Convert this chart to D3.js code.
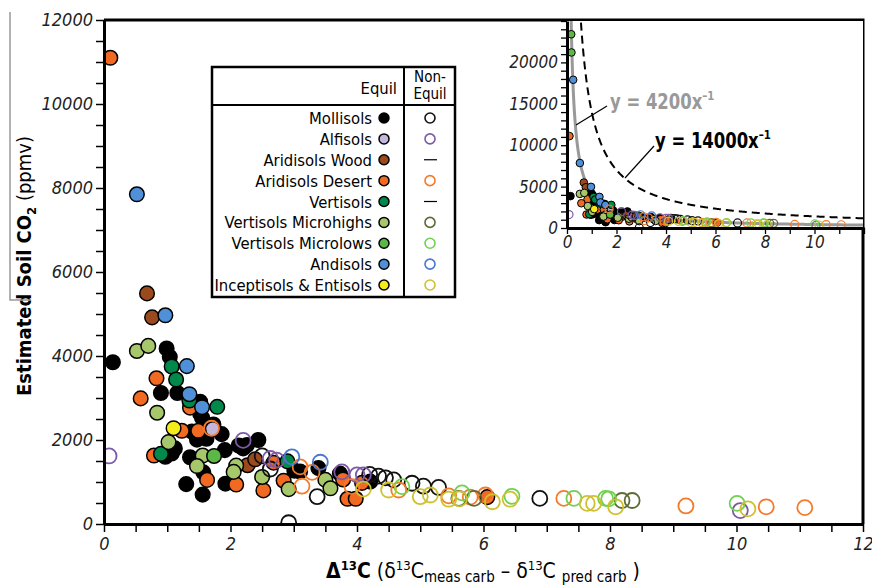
<!DOCTYPE html>
<html>
<head>
<meta charset="utf-8">
<script src="https://cdn.jsdelivr.net/npm/d3@7"></script>
<style>
  body { margin: 0; background: #fff; }
  svg { display: block; font-family: "DejaVu Sans Condensed", "Liberation Sans Narrow", sans-serif; }
</style>
</head>
<body>
<svg id="chart" width="872" height="588"></svg>
<script>
// soil orders, in legend order
const soilNames = ["Mollisols", "Alfisols", "Aridisols Wood", "Aridisols Desert", "Vertisols",
  "Vertisols Microhighs", "Vertisols Microlows", "Andisols", "Inceptisols & Entisols"];

// [delta13C, soil CO2 (ppmv)] — equilibrium samples (filled) and non-equilibrium (open)
const mollisolsEq = [[0.14,3850],[0.99,4180],[1.04,3980],[0.90,3120],[1.16,3120],[1.52,2910],[1.52,2630],
  [1.55,2530],[1.73,2370],[1.39,2200],[1.86,2140],[1.62,2030],[1.47,2010],[1.91,1760],[1.10,1760],
  [1.12,1800],[0.97,1600],[1.07,1680],[1.36,1590],[1.57,1230],[1.30,950],[1.56,700],[1.92,960],
  [2.13,1870],[2.26,1880],[2.44,2000],[2.20,1800],[3.01,1270],[3.10,1250],[3.39,1330],[3.73,1200],
  [4.21,1010]];
const mollisolsNon = [[2.92,30],[2.50,1620],[2.63,1310],[3.37,650],[4.20,1180],[4.34,1140],[4.45,1100],
  [4.58,1050],[4.87,970],[5.05,900],[5.29,870],[6.89,610]];
const alfisolsEq = [[1.72,2260]];
const alfisolsNon = [[0.08,1620],[2.20,1990],[2.63,1560],[2.73,1520],[3.76,1240],[4.00,1170],[4.10,1170],
  [10.06,320]];
const aridWoodEq = [[0.68,5490],[0.76,4920],[2.27,1400],[2.39,1540]];
const aridDesertEq = [[0.10,11100],[0.83,3470],[0.58,2990],[1.36,2770],[1.23,2220],[1.49,2220],[0.79,1630],
  [1.63,1050],[2.09,940],[2.68,1460],[2.52,800],[2.84,1030],[3.78,1060],[3.85,600],[3.98,600],
  [4.08,980],[6.06,640]];
const aridDesertNon = [[1.70,2280],[3.10,1360],[3.13,900],[3.29,1230],[3.92,890],[4.66,810],[5.45,670],
  [5.79,640],[6.03,690],[7.27,610],[9.20,430],[10.47,410],[11.08,390]];
const vertisolsEq = [[1.07,3750],[1.14,3440],[1.35,2940],[1.79,2790],[0.90,1670],[2.90,1490]];
const microhighsEq = [[0.52,4120],[0.70,4240],[0.84,2650],[1.02,1950],[1.56,1630],[1.47,1380],[2.09,1390],
  [2.05,1240],[2.50,1120],[2.92,830],[3.50,1050],[3.58,850]];
const microhighsNon = [[5.61,610],[5.85,610],[8.19,560],[8.35,560]];
const microlowsEq = [[1.74,1620],[0.17,23400],[0.18,21200]];
const microlowsNon = [[4.71,890],[5.66,740],[6.45,660],[7.43,610],[7.93,610],[7.98,600],[10.01,490]];
const andisolsEq = [[0.52,7850],[0.97,4970],[1.31,3760],[1.35,3090],[1.55,2780],[0.25,17900]];
const andisolsNon = [[2.97,1600],[3.42,1470]];
const inceptisolsEq = [[1.10,2280]];
const inceptisolsNon = [[4.10,830],[4.50,810],[5.00,650],[5.16,690],[5.45,590],[5.62,600],[6.14,530],
  [6.42,590],[7.64,490],[7.74,490],[8.09,410],[10.18,360]];

const equil = [mollisolsEq, alfisolsEq, aridWoodEq, aridDesertEq, vertisolsEq, microhighsEq,
  microlowsEq, andisolsEq, inceptisolsEq];
const nonEquil = [mollisolsNon, alfisolsNon, null, aridDesertNon, null, microhighsNon,
  microlowsNon, andisolsNon, inceptisolsNon];

// fitted curves shown in the inset, y = k / x
const fitConstants = [4200, 14000];

const fillColors = ["#000000", "#c4b7dc", "#9b4a1e", "#f26a21", "#00894b", "#a7c76b", "#5cb846", "#4f90d8", "#f4eb1a"];
const ringColors = ["#111111", "#7c5aa6", null, "#f47b2c", null, "#5d6a34", "#6fd14f", "#4a79cf", "#cfc12e"];

const tickFont = "DejaVu Sans Condensed, Liberation Sans Narrow, sans-serif";
const svg = d3.select("#chart");

// ---- main panel ----
const x = d3.scaleLinear([0, 12], [104, 863]);
const y = d3.scaleLinear([0, 12000], [524, 20]);

svg.append("defs").append("clipPath").attr("id", "main-clip")
  .append("rect").attr("x", 104).attr("y", 20).attr("width", 759).attr("height", 504);

const plot = svg.append("g").attr("clip-path", "url(#main-clip)");

const seriesEq = equil.map((pts, i) => pts.map(p => ({x: p[0], y: p[1], i})));
const seriesNon = nonEquil.map((pts, i) => (pts || []).map(p => ({x: p[0], y: p[1], i})));

plot.selectAll("circle.eq")
  .data(seriesEq.flat().filter(d => d.y <= 12000))
  .join("circle")
    .attr("class", "eq")
    .attr("cx", d => x(d.x))
    .attr("cy", d => y(d.y))
    .attr("r", 7.3)
    .attr("fill", d => fillColors[d.i])
    .attr("stroke", "#000")
    .attr("stroke-width", 1.5);

plot.selectAll("circle.non")
  .data(seriesNon.flat())
  .join("circle")
    .attr("class", "non")
    .attr("cx", d => x(d.x))
    .attr("cy", d => y(d.y))
    .attr("r", 7.5)
    .attr("fill", "none")
    .attr("stroke", d => ringColors[d.i])
    .attr("stroke-width", 1.8);

const yAxis = svg.append("g")
  .attr("transform", "translate(104,0)")
  .call(d3.axisLeft(y).tickValues(d3.range(0, 12001, 500))
    .tickFormat(d => d % 2000 === 0 ? d : "").tickSize(8).tickSizeOuter(0).tickPadding(3));
const xAxis = svg.append("g")
  .attr("transform", "translate(0,524)")
  .call(d3.axisBottom(x).tickValues(d3.range(0, 12.01, 0.5))
    .tickFormat(d => d % 2 === 0 ? d : "").tickSize(8).tickSizeOuter(0).tickPadding(5));

[yAxis, xAxis].forEach(g => {
  g.select(".domain").attr("stroke-width", 3);
  g.selectAll(".tick line").attr("stroke-width", 1.5);
  g.selectAll("text").attr("font-size", 18).attr("font-style", "italic")
    .attr("font-family", tickFont).attr("fill", "#222");
});

// frame top and right
svg.append("path")
  .attr("d", `M104,${y(12000)}H${x(12)}V${y(0)}`)
  .attr("fill", "none").attr("stroke", "#000").attr("stroke-width", 3);

// axis titles
const yTitle = svg.append("text")
  .attr("transform", "translate(31,266) rotate(-90)")
  .attr("text-anchor", "middle")
  .attr("font-size", 20);
yTitle.append("tspan").attr("font-weight", "bold").text("Estimated Soil CO");
yTitle.append("tspan").attr("font-weight", "bold").attr("font-size", 13).attr("dy", 5).text("2");
yTitle.append("tspan").attr("dy", -5).text(" (ppmv)");

const xTitle = svg.append("text")
  .attr("x", 483).attr("y", 578)
  .attr("text-anchor", "middle")
  .attr("font-size", 21);
xTitle.append("tspan").attr("font-weight", "bold").text("Δ");
xTitle.append("tspan").attr("font-weight", "bold").attr("font-size", 13).attr("dy", -8).text("13");
xTitle.append("tspan").attr("font-weight", "bold").attr("dy", 8).text("C");
xTitle.append("tspan").text(" (δ");
xTitle.append("tspan").attr("font-size", 13).attr("dy", -8).text("13");
xTitle.append("tspan").attr("dy", 8).text("C");
xTitle.append("tspan").attr("font-size", 15).attr("dy", 4).text("meas carb");
xTitle.append("tspan").attr("dy", -4).text(" – δ");
xTitle.append("tspan").attr("font-size", 13).attr("dy", -8).text("13");
xTitle.append("tspan").attr("dy", 8).text("C ");
xTitle.append("tspan").attr("font-size", 15).attr("dy", 4).text("pred carb");
xTitle.append("tspan").attr("dy", -4).text(" )");

// thin rule beside the y title
svg.append("path")
  .attr("d", "M10,12V300H31")
  .attr("fill", "none").attr("stroke", "#999").attr("stroke-width", 1.5);

// ---- legend ----
const lg = svg.append("g").attr("font-size", 16.5);
lg.append("rect").attr("x", 212).attr("y", 67).attr("width", 243).attr("height", 230)
  .attr("fill", "#fff").attr("stroke", "#000").attr("stroke-width", 2.5);
lg.append("line").attr("x1", 212).attr("x2", 455).attr("y1", 105).attr("y2", 105)
  .attr("stroke", "#000").attr("stroke-width", 2);
lg.append("line").attr("x1", 404).attr("x2", 404).attr("y1", 67).attr("y2", 297)
  .attr("stroke", "#000").attr("stroke-width", 2);
lg.append("text").attr("x", 397).attr("y", 94).attr("text-anchor", "end").text("Equil");
lg.append("text").attr("x", 430).attr("y", 82).attr("font-size", 15).attr("text-anchor", "middle").text("Non-");
lg.append("text").attr("x", 430).attr("y", 99).attr("font-size", 15).attr("text-anchor", "middle").text("Equil");

const rowY = d3.scalePoint(d3.range(soilNames.length), [118, 285]);
const rows = lg.selectAll("g.row").data(soilNames).join("g").attr("class", "row")
  .attr("transform", (d, i) => `translate(0,${rowY(i)})`);
rows.append("text").attr("x", 372).attr("y", 6).attr("text-anchor", "end").text(d => d);
rows.append("circle").attr("cx", 384).attr("r", 5)
  .attr("fill", (d, i) => fillColors[i]).attr("stroke", "#000").attr("stroke-width", 1.5);
rows.each(function(d, i) {
  const g = d3.select(this);
  if (ringColors[i]) {
    g.append("circle").attr("cx", 430).attr("r", 5).attr("fill", "none")
      .attr("stroke", ringColors[i]).attr("stroke-width", 1.6);
  } else {
    g.append("line").attr("x1", 424).attr("x2", 437).attr("stroke", "#000").attr("stroke-width", 1.2);
  }
});

// ---- inset: full range of CO2 with fitted curves ----
const ix = d3.scaleLinear([0, 12], [567, 864]);
const iy = d3.scaleLinear([0, 25000], [228, 21]);

svg.append("rect").attr("x", 567).attr("y", 21).attr("width", 296).attr("height", 207).attr("fill", "#fff");
svg.select("defs").append("clipPath").attr("id", "inset-clip")
  .append("rect").attr("x", 567).attr("y", 21).attr("width", 296).attr("height", 207);

const inset = svg.append("g").attr("clip-path", "url(#inset-clip)");
const curveX = d3.range(0.1, 12.01, 0.02);
const curve = k => d3.line().x(v => ix(v)).y(v => iy(Math.min(k / v, 30000)))(curveX);

inset.append("path").attr("d", curve(fitConstants[0]))
  .attr("fill", "none").attr("stroke", "#999").attr("stroke-width", 3);
inset.append("path").attr("d", curve(fitConstants[1]))
  .attr("fill", "none").attr("stroke", "#000").attr("stroke-width", 2).attr("stroke-dasharray", "8,5");

inset.selectAll("circle.eq")
  .data(seriesEq.flat())
  .join("circle")
    .attr("class", "eq")
    .attr("cx", d => ix(d.x))
    .attr("cy", d => iy(d.y))
    .attr("r", 3.8)
    .attr("fill", d => fillColors[d.i])
    .attr("stroke", "#000")
    .attr("stroke-width", 1);
inset.selectAll("circle.non")
  .data(seriesNon.flat())
  .join("circle")
    .attr("class", "non")
    .attr("cx", d => ix(d.x))
    .attr("cy", d => iy(d.y))
    .attr("r", 4)
    .attr("fill", "none")
    .attr("stroke", d => ringColors[d.i])
    .attr("stroke-width", 1.2);

const iyAxis = svg.append("g")
  .attr("transform", "translate(567,0)")
  .call(d3.axisLeft(iy).tickValues(d3.range(0, 25001, 1000))
    .tickFormat(d => d % 5000 === 0 && d < 25000 ? d : "").tickSize(6).tickSizeOuter(0).tickPadding(3));
const ixAxis = svg.append("g")
  .attr("transform", "translate(0,228)")
  .call(d3.axisBottom(ix).tickValues(d3.range(0, 12.01, 1))
    .tickFormat(d => d % 2 === 0 && d < 12 ? d : "").tickSize(6).tickSizeOuter(0).tickPadding(2));
[iyAxis, ixAxis].forEach(g => {
  g.select(".domain").attr("stroke-width", 3);
  g.selectAll(".tick line").attr("stroke-width", 1.3);
  g.selectAll("text").attr("font-size", 17).attr("font-style", "italic")
    .attr("font-family", tickFont).attr("fill", "#222");
});

// curve labels with leader lines
svg.append("line").attr("x1", 576).attr("y1", 125).attr("x2", 607).attr("y2", 106)
  .attr("stroke", "#000").attr("stroke-width", 1.2);
svg.append("line").attr("x1", 625).attr("y1", 178).attr("x2", 654).attr("y2", 146)
  .attr("stroke", "#000").attr("stroke-width", 1.2);

fitConstants.forEach((k, j) => {
  const t = svg.append("text")
    .attr("transform", `translate(${j === 0 ? 610 : 655},${j === 0 ? 109 : 148}) scale(0.87,1)`)
    .attr("font-size", 21)
    .attr("font-weight", "bold")
    .attr("fill", j === 0 ? "#999" : "#000");
  t.append("tspan").text(`y = ${k}x`);
  t.append("tspan").attr("font-size", 13).attr("dy", -9).text("–1");
});
</script>
</body>
</html>
